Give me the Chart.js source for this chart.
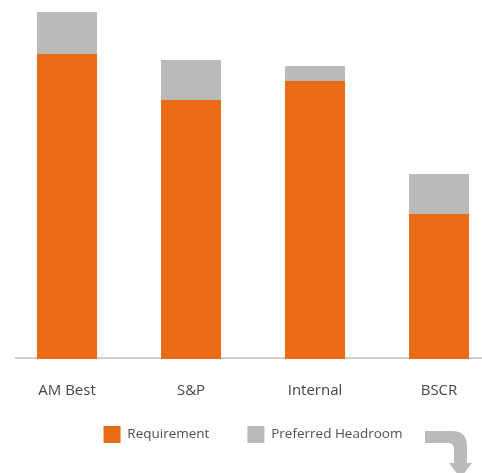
<!DOCTYPE html>
<html>
<head>
  <title>Capital requirement vs headroom</title>
  <script src="https://cdn.jsdelivr.net/npm/chart.js"></script>
  <style>
    html, body { margin: 0; padding: 0; background: #fff; overflow: hidden; }
    #wrap { width: 482px; height: 473px; overflow: hidden; }
  </style>
</head>
<body>
  <div id="wrap">
    <canvas id="barChart" width="506" height="473"></canvas>
  </div>

  <script>
    // chart data (arbitrary units)
    const categories = ['AM Best', 'S&P', 'Internal', 'BSCR'];
    const requirement = [305, 259, 278, 145];
    const headroom = [42, 40, 15, 40];
    const seriesNames = ['Requirement', 'Preferred Headroom'];

    const orange = '#eb6a14';
    const grey = '#b9bab9';

    // baseline and the little bent arrow in the corner
    const decorations = {
      id: 'decorations',
      afterLayout(chart) {
        // x axis is squeezed in afterFit, give its labels room to draw again
        chart.scales.x.bottom += 30;
      },
      beforeDatasetsDraw(chart) {
        const ctx = chart.ctx;
        const y0 = chart.scales.y.getPixelForValue(0);
        ctx.save();
        ctx.strokeStyle = '#cfcfcf';
        ctx.lineWidth = 2;
        ctx.beginPath();
        ctx.moveTo(15, y0 - 1);
        ctx.lineTo(chart.width, y0 - 1);
        ctx.stroke();
        ctx.restore();
      },
      afterDraw(chart) {
        const ctx = chart.ctx;
        ctx.save();
        ctx.fillStyle = '#b9bab9';
        ctx.beginPath();
        ctx.moveTo(425, 431);
        ctx.lineTo(452, 431);
        ctx.quadraticCurveTo(467, 431, 467, 446);
        ctx.lineTo(467, 463);
        ctx.lineTo(472, 463);
        ctx.lineTo(460.5, 478);
        ctx.lineTo(449, 463);
        ctx.lineTo(454, 463);
        ctx.lineTo(454, 449);
        ctx.quadraticCurveTo(454, 443, 448, 443);
        ctx.lineTo(425, 443);
        ctx.closePath();
        ctx.fill();
        ctx.restore();
      }
    };

    Chart.defaults.font.family = '"Open Sans", "Noto Sans", sans-serif';
    Chart.defaults.color = '#454545';

    const ctx = document.getElementById('barChart').getContext('2d');
    const myChart = new Chart(ctx, {
      type: 'bar',
      data: {
        labels: categories,
        datasets: [
          {
            label: seriesNames[0],
            data: requirement,
            backgroundColor: orange,
            borderWidth: 0
          },
          {
            label: seriesNames[1],
            data: headroom,
            backgroundColor: grey,
            borderWidth: 0
          }
        ]
      },
      options: {
        responsive: false,
        animation: false,
        datasets: {
          bar: { categoryPercentage: 1, barPercentage: 0.484 }
        },
        layout: {
          padding: { left: 5, right: 5, top: 9, bottom: 20 }
        },
        plugins: {
          tooltip: { enabled: false },
          legend: {
            position: 'bottom',
            labels: {
              boxWidth: 17,
              boxHeight: 17,
              padding: 38,
              font: { size: 13.5 },
              color: '#505050'
            }
          }
        },
        scales: {
          x: {
            stacked: true,
            grid: { display: false, drawTicks: false },
            border: { display: false },
            ticks: { padding: 23, font: { size: 15 }, color: '#454545' },
            afterFit(scale) { scale.height = 29; }
          },
          y: {
            stacked: true,
            display: false,
            min: 0,
            max: 350
          }
        }
      },
      plugins: [decorations]
    });
  </script>
</body>
</html>
